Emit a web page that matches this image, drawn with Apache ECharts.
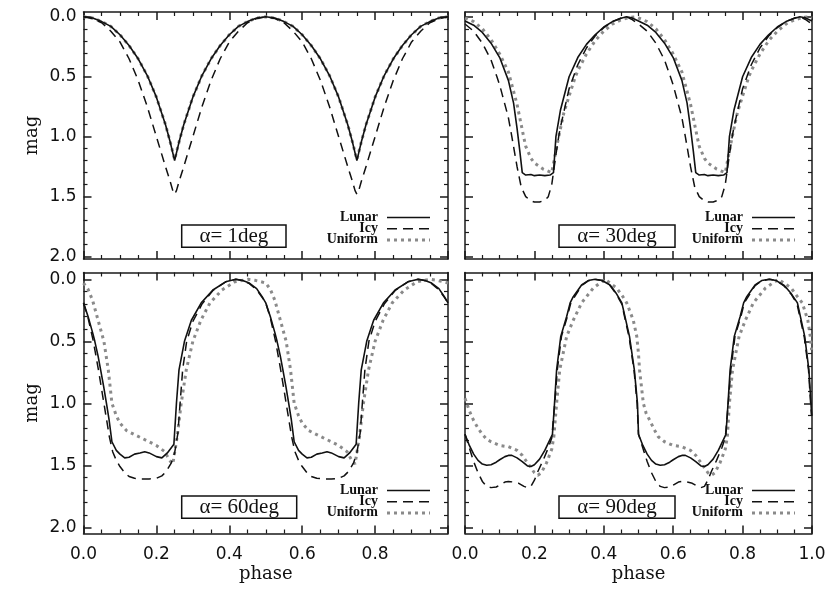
<!DOCTYPE html>
<html>
<head>
<meta charset="utf-8">
<script src="https://cdn.jsdelivr.net/npm/echarts@6/dist/echarts.min.js"></script>
<style>html,body{margin:0;padding:0;background:#fff}#c{width:830px;height:593px}</style>
</head>
<body>
<div id="c"></div>
<script>
// ---------- labels ----------
const panelTitles = ['α= 1deg', 'α= 30deg', 'α= 60deg', 'α= 90deg'];
const seriesNames = ['Lunar', 'Icy', 'Uniform'];
const yMajorTicks = [0, 0.5, 1.0, 1.5, 2.0];
const yMinorTicks = [0.1,0.2,0.3,0.4,0.6,0.7,0.8,0.9,1.1,1.2,1.3,1.4,1.6,1.7,1.8,1.9];
const xAxisTitle = 'phase';
const yAxisTitle = 'mag';

// ---------- data: [phase, mag] ----------
// alpha = 1 deg
const lunar1 = [[0,0],[0.025,0.01],[0.05,0.04],[0.075,0.08],[0.1,0.15],[0.125,0.24],[0.15,0.35],[0.175,0.49],[0.2,0.67],[0.225,0.9],[0.2375,1.04],[0.25,1.2],[0.2625,1.04],[0.275,0.9],[0.3,0.67],[0.325,0.49],[0.35,0.35],[0.375,0.24],[0.4,0.15],[0.425,0.08],[0.45,0.04],[0.475,0.01],[0.5,0],
 [0.525,0.01],[0.55,0.04],[0.575,0.08],[0.6,0.15],[0.625,0.24],[0.65,0.35],[0.675,0.49],[0.7,0.67],[0.725,0.9],[0.7375,1.04],[0.75,1.2],[0.7625,1.04],[0.775,0.9],[0.8,0.67],[0.825,0.49],[0.85,0.35],[0.875,0.24],[0.9,0.15],[0.925,0.08],[0.95,0.04],[0.975,0.01],[1,0]];
const icy1 = [[0,0],[0.025,0.015],[0.05,0.05],[0.075,0.12],[0.1,0.21],[0.125,0.35],[0.15,0.53],[0.175,0.75],[0.2,1.0],[0.225,1.25],[0.2375,1.37],[0.245,1.45],[0.25,1.48],[0.255,1.45],[0.2625,1.37],[0.275,1.25],[0.3,1.0],[0.325,0.75],[0.35,0.53],[0.375,0.35],[0.4,0.21],[0.425,0.12],[0.45,0.05],[0.475,0.015],[0.5,0],
 [0.525,0.015],[0.55,0.05],[0.575,0.12],[0.6,0.21],[0.625,0.35],[0.65,0.53],[0.675,0.75],[0.7,1.0],[0.725,1.25],[0.7375,1.37],[0.745,1.45],[0.75,1.48],[0.755,1.45],[0.7625,1.37],[0.775,1.25],[0.8,1.0],[0.825,0.75],[0.85,0.53],[0.875,0.35],[0.9,0.21],[0.925,0.12],[0.95,0.05],[0.975,0.015],[1,0]];
const uniform1 = [[0,0],[0.025,0.01],[0.05,0.04],[0.075,0.08],[0.1,0.15],[0.125,0.24],[0.15,0.35],[0.175,0.49],[0.2,0.67],[0.225,0.9],[0.2375,1.04],[0.25,1.19],[0.2625,1.04],[0.275,0.9],[0.3,0.67],[0.325,0.49],[0.35,0.35],[0.375,0.24],[0.4,0.15],[0.425,0.08],[0.45,0.04],[0.475,0.01],[0.5,0],
 [0.525,0.01],[0.55,0.04],[0.575,0.08],[0.6,0.15],[0.625,0.24],[0.65,0.35],[0.675,0.49],[0.7,0.67],[0.725,0.9],[0.7375,1.04],[0.75,1.19],[0.7625,1.04],[0.775,0.9],[0.8,0.67],[0.825,0.49],[0.85,0.35],[0.875,0.24],[0.9,0.15],[0.925,0.08],[0.95,0.04],[0.975,0.01],[1,0]];

// alpha = 30 deg
const lunar2 = [[0,0.035],[0.025,0.07],[0.05,0.13],[0.075,0.22],[0.1,0.34],[0.125,0.53],[0.14,0.72],[0.15,0.93],[0.158,1.12],[0.165,1.3],[0.175,1.32],[0.19,1.315],[0.2,1.325],[0.215,1.32],[0.23,1.325],[0.245,1.32],[0.255,1.3],[0.262,1.0],[0.275,0.78],[0.3,0.5],[0.325,0.34],[0.35,0.23],[0.375,0.15],[0.4,0.085],[0.425,0.04],[0.45,0.012],[0.465,0],[0.48,0.008],[0.5,0.035],
 [0.525,0.07],[0.55,0.13],[0.575,0.22],[0.6,0.34],[0.625,0.53],[0.64,0.72],[0.65,0.93],[0.658,1.12],[0.665,1.3],[0.675,1.32],[0.69,1.315],[0.7,1.325],[0.715,1.32],[0.73,1.325],[0.745,1.32],[0.755,1.3],[0.762,1.0],[0.775,0.78],[0.8,0.5],[0.825,0.34],[0.85,0.23],[0.875,0.15],[0.9,0.085],[0.925,0.04],[0.95,0.012],[0.965,0],[0.98,0.008],[1,0.035]];
const icy2 = [[0,0.06],[0.025,0.12],[0.05,0.22],[0.075,0.36],[0.092,0.5],[0.1,0.57],[0.125,0.84],[0.135,1.0],[0.15,1.25],[0.162,1.42],[0.175,1.5],[0.19,1.535],[0.2,1.545],[0.215,1.545],[0.23,1.53],[0.24,1.5],[0.25,1.4],[0.262,1.15],[0.27,1.0],[0.275,0.92],[0.3,0.6],[0.325,0.4],[0.35,0.26],[0.375,0.16],[0.4,0.09],[0.425,0.04],[0.45,0.01],[0.465,0],[0.48,0.02],[0.5,0.06],
 [0.525,0.12],[0.55,0.22],[0.575,0.36],[0.592,0.5],[0.6,0.57],[0.625,0.84],[0.635,1.0],[0.65,1.25],[0.662,1.42],[0.675,1.5],[0.69,1.535],[0.7,1.545],[0.715,1.545],[0.73,1.53],[0.74,1.5],[0.75,1.4],[0.762,1.15],[0.77,1.0],[0.775,0.92],[0.8,0.6],[0.825,0.4],[0.85,0.26],[0.875,0.16],[0.9,0.09],[0.925,0.04],[0.95,0.01],[0.965,0],[0.98,0.02],[1,0.06]];
const uniform2 = [[0,0.01],[0.025,0.04],[0.05,0.1],[0.075,0.19],[0.1,0.31],[0.125,0.46],[0.15,0.73],[0.169,1.0],[0.175,1.08],[0.19,1.18],[0.2,1.22],[0.225,1.27],[0.25,1.3],[0.26,1.15],[0.27,1.0],[0.285,0.8],[0.3,0.66],[0.318,0.5],[0.325,0.45],[0.35,0.31],[0.375,0.2],[0.4,0.12],[0.425,0.06],[0.45,0.025],[0.475,0.005],[0.49,0],[0.5,0.01],
 [0.525,0.04],[0.55,0.1],[0.575,0.19],[0.6,0.31],[0.625,0.46],[0.65,0.73],[0.669,1.0],[0.675,1.08],[0.69,1.18],[0.7,1.22],[0.725,1.27],[0.75,1.3],[0.76,1.15],[0.77,1.0],[0.785,0.8],[0.8,0.66],[0.818,0.5],[0.825,0.45],[0.85,0.31],[0.875,0.2],[0.9,0.12],[0.925,0.06],[0.95,0.025],[0.975,0.005],[0.99,0],[1,0.01]];

// alpha = 60 deg
const lunar3 = [[0,0.19],[0.0125,0.3],[0.025,0.43],[0.031,0.5],[0.04,0.62],[0.047,0.73],[0.055,0.86],[0.063,1.0],[0.07,1.13],[0.078,1.31],[0.09,1.38],[0.1,1.41],[0.113,1.44],[0.125,1.435],[0.14,1.41],[0.155,1.4],[0.168,1.39],[0.18,1.4],[0.2,1.43],[0.215,1.44],[0.23,1.4],[0.248,1.33],[0.255,1.0],[0.262,0.73],[0.277,0.5],[0.296,0.33],[0.323,0.19],[0.355,0.086],[0.39,0.02],[0.418,0],[0.435,0.008],[0.455,0.03],[0.475,0.075],[0.49,0.14],[0.5,0.19],
 [0.5125,0.3],[0.525,0.43],[0.531,0.5],[0.54,0.62],[0.547,0.73],[0.555,0.86],[0.563,1.0],[0.57,1.13],[0.578,1.31],[0.59,1.38],[0.6,1.41],[0.613,1.44],[0.625,1.435],[0.64,1.41],[0.655,1.4],[0.668,1.39],[0.68,1.4],[0.7,1.43],[0.715,1.44],[0.73,1.4],[0.748,1.33],[0.755,1.0],[0.762,0.73],[0.777,0.5],[0.796,0.33],[0.823,0.19],[0.855,0.086],[0.89,0.02],[0.918,0],[0.935,0.008],[0.955,0.03],[0.975,0.075],[0.99,0.14],[1,0.19]];
const icy3 = [[0,0.19],[0.0125,0.31],[0.027,0.5],[0.041,0.73],[0.056,1.0],[0.071,1.27],[0.08,1.39],[0.09,1.46],[0.1,1.51],[0.113,1.56],[0.125,1.59],[0.14,1.605],[0.16,1.61],[0.18,1.61],[0.2,1.605],[0.215,1.585],[0.227,1.55],[0.241,1.48],[0.25,1.4],[0.259,1.24],[0.265,1.0],[0.272,0.73],[0.283,0.5],[0.3,0.34],[0.325,0.2],[0.355,0.09],[0.39,0.02],[0.418,0],[0.435,0.01],[0.455,0.035],[0.475,0.085],[0.49,0.145],[0.5,0.19],
 [0.5125,0.31],[0.527,0.5],[0.541,0.73],[0.556,1.0],[0.571,1.27],[0.58,1.39],[0.59,1.46],[0.6,1.51],[0.613,1.56],[0.625,1.59],[0.64,1.605],[0.66,1.61],[0.68,1.61],[0.7,1.605],[0.715,1.585],[0.727,1.55],[0.741,1.48],[0.75,1.4],[0.759,1.24],[0.765,1.0],[0.772,0.73],[0.783,0.5],[0.8,0.34],[0.825,0.2],[0.855,0.09],[0.89,0.02],[0.918,0],[0.935,0.01],[0.955,0.035],[0.975,0.085],[0.99,0.145],[1,0.19]];
const uniform3 = [[0,0.03],[0.0125,0.08],[0.025,0.17],[0.04,0.33],[0.056,0.5],[0.068,0.73],[0.078,1.0],[0.09,1.1],[0.1,1.16],[0.118,1.22],[0.145,1.26],[0.173,1.3],[0.2,1.34],[0.223,1.39],[0.236,1.46],[0.245,1.49],[0.257,1.27],[0.268,1.0],[0.282,0.73],[0.3,0.5],[0.322,0.33],[0.347,0.19],[0.38,0.086],[0.415,0.02],[0.452,0],[0.47,0.008],[0.485,0.018],[0.5,0.03],
 [0.5125,0.08],[0.525,0.17],[0.54,0.33],[0.556,0.5],[0.568,0.73],[0.578,1.0],[0.59,1.1],[0.6,1.16],[0.618,1.22],[0.645,1.26],[0.673,1.3],[0.7,1.34],[0.723,1.39],[0.736,1.46],[0.745,1.49],[0.757,1.27],[0.768,1.0],[0.782,0.73],[0.8,0.5],[0.822,0.33],[0.847,0.19],[0.88,0.086],[0.915,0.02],[0.952,0],[0.97,0.008],[0.985,0.018],[1,0.03]];

// alpha = 90 deg
const lunar4 = [[0,1.25],[0.0125,1.34],[0.025,1.41],[0.0375,1.46],[0.05,1.49],[0.0625,1.5],[0.075,1.495],[0.09,1.475],[0.1,1.455],[0.115,1.43],[0.125,1.42],[0.135,1.42],[0.15,1.44],[0.165,1.47],[0.18,1.505],[0.19,1.51],[0.2,1.495],[0.215,1.45],[0.23,1.38],[0.252,1.25],[0.258,1.0],[0.264,0.73],[0.276,0.46],[0.293,0.3],[0.303,0.19],[0.312,0.14],[0.336,0.046],[0.355,0.01],[0.375,0],[0.395,0.01],[0.418,0.046],[0.435,0.11],[0.452,0.19],[0.474,0.46],[0.488,0.73],[0.497,1.0],[0.5,1.25],
 [0.5125,1.34],[0.525,1.41],[0.5375,1.46],[0.55,1.49],[0.5625,1.5],[0.575,1.495],[0.59,1.475],[0.6,1.455],[0.615,1.43],[0.625,1.42],[0.635,1.42],[0.65,1.44],[0.665,1.47],[0.68,1.505],[0.69,1.51],[0.7,1.495],[0.715,1.45],[0.73,1.38],[0.752,1.25],[0.758,1.0],[0.764,0.73],[0.776,0.46],[0.793,0.3],[0.803,0.19],[0.812,0.14],[0.836,0.046],[0.855,0.01],[0.877,0],[0.897,0.01],[0.92,0.05],[0.94,0.115],[0.958,0.19],[0.979,0.46],[0.991,0.73],[0.997,1.0],[0.999,1.1]];
const icy4 = [[0,1.25],[0.0125,1.36],[0.025,1.47],[0.0375,1.56],[0.05,1.63],[0.0625,1.67],[0.075,1.68],[0.09,1.675],[0.1,1.66],[0.115,1.635],[0.125,1.63],[0.14,1.635],[0.155,1.645],[0.17,1.67],[0.18,1.68],[0.19,1.67],[0.2,1.62],[0.21,1.55],[0.225,1.46],[0.24,1.36],[0.25,1.28],[0.255,1.12],[0.26,0.95],[0.266,0.73],[0.278,0.46],[0.295,0.3],[0.305,0.19],[0.336,0.05],[0.355,0.012],[0.375,0],[0.395,0.01],[0.418,0.05],[0.435,0.115],[0.452,0.2],[0.473,0.47],[0.487,0.73],[0.496,1.0],[0.5,1.25],
 [0.5125,1.36],[0.525,1.47],[0.5375,1.56],[0.55,1.63],[0.5625,1.67],[0.575,1.68],[0.59,1.675],[0.6,1.66],[0.615,1.635],[0.625,1.63],[0.64,1.635],[0.655,1.645],[0.67,1.67],[0.68,1.68],[0.69,1.67],[0.7,1.62],[0.71,1.55],[0.725,1.46],[0.74,1.36],[0.75,1.28],[0.755,1.12],[0.76,0.95],[0.766,0.73],[0.778,0.46],[0.795,0.3],[0.805,0.19],[0.836,0.05],[0.855,0.012],[0.877,0],[0.897,0.01],[0.92,0.055],[0.94,0.12],[0.957,0.2],[0.978,0.47],[0.99,0.73],[0.996,1.0],[0.999,1.1]];
const uniform4 = [[0,0.96],[0.0125,1.06],[0.025,1.14],[0.0375,1.2],[0.05,1.25],[0.0625,1.29],[0.075,1.31],[0.1,1.34],[0.125,1.35],[0.15,1.38],[0.165,1.42],[0.18,1.48],[0.19,1.52],[0.2,1.56],[0.21,1.58],[0.22,1.56],[0.235,1.48],[0.25,1.37],[0.256,1.27],[0.264,1.0],[0.273,0.73],[0.293,0.46],[0.312,0.33],[0.336,0.19],[0.37,0.07],[0.403,0],[0.437,0.07],[0.455,0.14],[0.466,0.19],[0.485,0.33],[0.495,0.46],[0.5,0.6],
 [0.503,0.73],[0.514,1.0],[0.522,1.08],[0.533,1.14],[0.545,1.21],[0.557,1.27],[0.575,1.31],[0.6,1.34],[0.625,1.35],[0.65,1.38],[0.665,1.42],[0.68,1.48],[0.69,1.52],[0.7,1.56],[0.71,1.58],[0.72,1.56],[0.735,1.48],[0.75,1.37],[0.756,1.27],[0.762,1.0],[0.771,0.73],[0.79,0.46],[0.808,0.33],[0.831,0.19],[0.866,0.07],[0.903,0],[0.94,0.07],[0.958,0.14],[0.972,0.19],[0.988,0.33],[0.995,0.46],[0.999,0.57]];

// ---------- layout ----------
const panels = [
  {lunar: lunar1, icy: icy1, uniform: uniform1},
  {lunar: lunar2, icy: icy2, uniform: uniform2},
  {lunar: lunar3, icy: icy3, uniform: uniform3},
  {lunar: lunar4, icy: icy4, uniform: uniform4}
];
const gridBoxes = [
  {left: 83.5, top: 12, width: 364.5, height: 247},
  {left: 465, top: 12, width: 347, height: 247},
  {left: 83.5, top: 272.5, width: 364.5, height: 261},
  {left: 465, top: 272.5, width: 347, height: 261}
];
const yRanges = [[-0.04, 2.02], [-0.04, 2.02], [-0.055, 2.05], [-0.055, 2.05]];
const legendPos = [
  {tx: 378, x1: 387, x2: 430, rows: [217, 228.3, 239.6]},
  {tx: 743, x1: 752, x2: 795, rows: [217, 228.3, 239.6]},
  {tx: 378, x1: 387, x2: 430, rows: [490, 501.3, 512.6]},
  {tx: 743, x1: 752, x2: 795, rows: [490, 501.3, 512.6]}
];
const boxPos = [
  {x: 181.7, y: 225, w: 104.3, h: 22.3},
  {x: 559, y: 225, w: 116, h: 22.3},
  {x: 181.7, y: 496, w: 115, h: 22.3},
  {x: 559, y: 496, w: 116, h: 22.3}
];

const INK = '#111';
const FRAME = {color: '#1a1a1a', width: 1.5};
const GRAY = '#8a8a8a';
const styles = {
  Lunar: {color: INK, width: 1.6, type: 'solid'},
  Icy: {color: INK, width: 1.5, type: [9, 6]},
  Uniform: {color: GRAY, width: 3, type: [3, 4]}
};
const tickFont = {fontFamily: 'DejaVu Sans', fontSize: 17, color: INK};
const nameFont = {fontFamily: 'DejaVu Serif', fontSize: 18, color: INK};

const grid = [], xAxis = [], yAxis = [], series = [], graphic = [];

gridBoxes.forEach((g, i) => {
  grid.push(Object.assign({containLabel: false}, g));
  const bottomRow = i >= 2;
  const leftCol = i % 2 === 0;
  const xCommon = {
    type: 'value', gridIndex: i, min: 0, max: 1, interval: 0.2,
    axisLine: {show: true, onZero: false, lineStyle: FRAME},
    axisTick: {show: true, inside: true, length: 8, lineStyle: FRAME},
    minorTick: {show: true, splitNumber: 4, length: 4, lineStyle: {color: FRAME.color, width: 1.2}},
    splitLine: {show: false}, minorSplitLine: {show: false}
  };
  xAxis.push(Object.assign({}, xCommon, {
    position: 'bottom',
    axisLabel: {show: bottomRow, margin: 13, ...tickFont,
      formatter: v => (leftCol && v > 0.99) ? '' : v.toFixed(1)},
    name: bottomRow ? xAxisTitle : '', nameLocation: 'middle', nameGap: 32, nameTextStyle: nameFont
  }));
  xAxis.push(Object.assign({}, xCommon, {position: 'top', axisLabel: {show: false}}));

  const [ymin, ymax] = yRanges[i];
  const yCommon = {
    type: 'value', gridIndex: i, min: ymin, max: ymax, inverse: true,
    splitLine: {show: false}
  };
  yAxis.push(Object.assign({}, yCommon, {
    position: 'left',
    axisLine: {show: true, onZero: false, lineStyle: FRAME},
    axisTick: {show: true, inside: true, length: 8, lineStyle: FRAME, customValues: yMajorTicks},
    axisLabel: {show: leftCol, margin: 7, ...tickFont, customValues: yMajorTicks, formatter: v => v.toFixed(1)},
    name: leftCol ? yAxisTitle : '', nameLocation: 'middle', nameGap: 42, nameTextStyle: nameFont
  }));
  yAxis.push(Object.assign({}, yCommon, {
    position: 'left',
    axisLine: {show: false, onZero: false},
    axisTick: {show: true, inside: true, length: 4, lineStyle: {color: FRAME.color, width: 1.2}, customValues: yMinorTicks},
    axisLabel: {show: false}
  }));
  yAxis.push(Object.assign({}, yCommon, {
    position: 'right',
    axisLine: {show: true, onZero: false, lineStyle: FRAME},
    axisTick: {show: true, inside: true, length: 8, lineStyle: FRAME, customValues: yMajorTicks},
    axisLabel: {show: false}
  }));
  yAxis.push(Object.assign({}, yCommon, {
    position: 'right',
    axisLine: {show: false, onZero: false},
    axisTick: {show: true, inside: true, length: 4, lineStyle: {color: FRAME.color, width: 1.2}, customValues: yMinorTicks},
    axisLabel: {show: false}
  }));

  const p = panels[i];
  const order = [['Uniform', p.uniform], ['Icy', p.icy], ['Lunar', p.lunar]];
  order.forEach(([nm, data]) => {
    const s = styles[nm];
    series.push({
      type: 'line', name: nm, xAxisIndex: 2 * i, yAxisIndex: 4 * i, data: data,
      showSymbol: false, symbol: 'none', smooth: false, clip: true, silent: true,
      lineStyle: {color: s.color, width: s.width, type: s.type, cap: 'butt'},
      z: nm === 'Uniform' ? 2 : 3
    });
  });

  const L = legendPos[i];
  seriesNames.forEach((nm, k) => {
    const s = styles[nm];
    graphic.push({
      type: 'text', z: 10, silent: true,
      style: {text: nm, x: L.tx, y: L.rows[k], align: 'right', verticalAlign: 'middle',
        font: 'bold 14px "Liberation Serif"', fill: INK}
    });
    graphic.push({
      type: 'line', z: 10, silent: true,
      shape: {x1: L.x1, y1: L.rows[k] + 0.5, x2: L.x2, y2: L.rows[k] + 0.5},
      style: {stroke: s.color, lineWidth: nm === 'Uniform' ? 3 : 1.4, lineDash: nm === 'Lunar' ? null : (nm === 'Icy' ? [10, 6] : [3, 4])}
    });
  });

  const B = boxPos[i];
  graphic.push({
    type: 'rect', z: 10, silent: true,
    shape: {x: B.x, y: B.y, width: B.w, height: B.h},
    style: {fill: 'rgba(0,0,0,0)', stroke: INK, lineWidth: 1.5}
  });
  graphic.push({
    type: 'text', z: 10, silent: true,
    style: {text: panelTitles[i], x: B.x + B.w / 2, y: B.y + B.h / 2 + 0.5, align: 'center', verticalAlign: 'middle',
      font: '21px "Liberation Serif"', fill: INK}
  });
});

const chart = echarts.init(document.getElementById('c'), null, {renderer: 'canvas'});
chart.setOption({
  animation: false,
  backgroundColor: '#fff',
  grid, xAxis, yAxis, series, graphic
});
</script>
</body>
</html>
